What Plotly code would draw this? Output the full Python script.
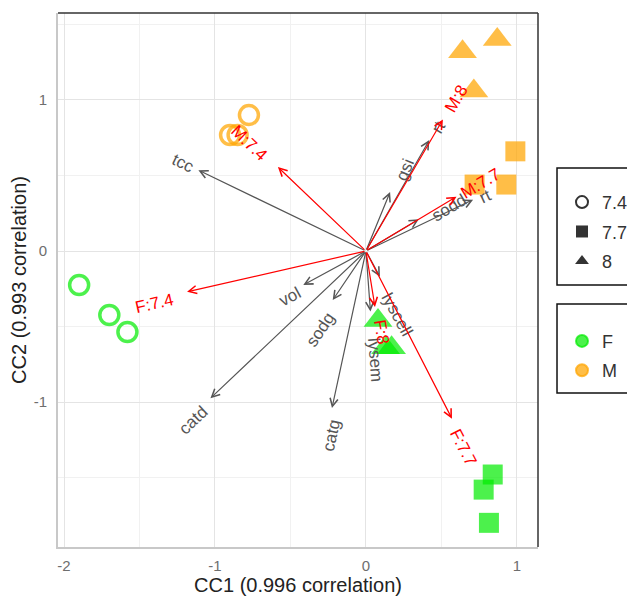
import math
import plotly.graph_objects as go

# ---- sample scores (CC1, CC2) ----
sex = ["F", "F", "F", "M", "M", "M", "F", "F", "F", "M", "M", "M", "F", "F", "F", "M", "M", "M"]
ph = [7.4, 7.4, 7.4, 7.4, 7.4, 7.4, 7.7, 7.7, 7.7, 7.7, 7.7, 7.7, 8, 8, 8, 8, 8, 8]
cc1 = [-1.90, -1.70, -1.58, -0.90, -0.85, -0.775, 0.84, 0.78, 0.815, 0.99, 0.93, 0.72,
       0.08, 0.13, 0.17, 0.64, 0.87, 0.715]
cc2 = [-0.225, -0.424, -0.536, 0.768, 0.768, 0.90, -1.48, -1.58, -1.80, 0.66, 0.44, 0.44,
       -0.46, -0.64, -0.64, 1.32, 1.40, 1.06]

# ---- variable arrows (biplot) ----
var_names = ["tcc", "vol", "sodg", "catd", "catg", "lysem", "lyscell", "gsi", "rt", "sodd", "rt"]
var_x = [-1.11, -0.415, -0.22, -1.03, -0.225, 0.03, 0.093, 0.16, 0.42, 0.35, 0.71]
var_y = [0.535, -0.225, -0.325, -0.975, -1.04, -0.40, -0.17, 0.39, 0.735, 0.21, 0.34]
var_label_x = [-1.21, -0.50, -0.30, -1.145, -0.23, 0.06, 0.205, 0.26, 0.48, 0.556, 0.79]
var_label_y = [0.58, -0.30, -0.52, -1.12, -1.22, -0.72, -0.42, 0.54, 0.82, 0.285, 0.36]

# ---- group centroid arrows ----
cent_names = ["M:7.4", "F:7.4", "M:8", "M:7.7", "F:8", "F:7.7"]
cent_x = [-0.583, -1.185, 0.51, 0.60, 0.06, 0.57]
cent_y = [0.556, -0.27, 0.87, 0.36, -0.37, -1.11]
cent_label_x = [-0.77, -1.40, 0.60, 0.76, 0.10, 0.645]
cent_label_y = [0.715, -0.345, 1.01, 0.45, -0.535, -1.30]

x_tick_vals = [-2, -1, 0, 1]
x_tick_text = ["-2", "-1", "0", "1"]
y_tick_vals = [-1, 0, 1]
y_tick_text = ["-1", "0", "1"]

FONT = "Liberation Sans, Arial, Helvetica, sans-serif"
sex_colors = {"F": "rgba(0,235,0,0.7)", "M": "rgba(255,165,0,0.72)"}
ph_symbols = {7.4: "circle-open", 7.7: "square", 8: "triangle-up"}
ph_sizes = {7.4: 19, 7.7: 20, 8: 25}

fig = go.Figure()

for s in ["F", "M"]:
    for p in [7.4, 7.7, 8]:
        xs = [cc1[i] for i in range(len(cc1)) if sex[i] == s and ph[i] == p]
        ys = [cc2[i] for i in range(len(cc2)) if sex[i] == s and ph[i] == p]
        open_sym = ph_symbols[p].endswith("open")
        fig.add_trace(go.Scatter(
            x=xs, y=ys, mode="markers", showlegend=False, hoverinfo="skip",
            marker=dict(symbol=ph_symbols[p], size=ph_sizes[p], color=sex_colors[s],
                        line=dict(width=3.5 if open_sym else 0, color=sex_colors[s])),
        ))

# legend 1: pH shapes
for p, lab in [(7.4, "7.4"), (7.7, "7.7"), (8, "8")]:
    open_sym = ph_symbols[p].endswith("open")
    fig.add_trace(go.Scatter(
        x=[None], y=[None], mode="markers", name=lab, legend="legend", legendgroup="ph" + lab,
        marker=dict(symbol=ph_symbols[p], size=12, color="#333333",
                    line=dict(width=3 if open_sym else 0, color="#333333")),
    ))
# legend 2: sex colours
for s in ["F", "M"]:
    fig.add_trace(go.Scatter(
        x=[None], y=[None], mode="markers", name=s, legend="legend2", legendgroup="sex" + s,
        marker=dict(symbol="circle", size=13, color=sex_colors[s],
                    line=dict(width=2, color=sex_colors[s])),
    ))


def readable_angle(dx, dy):
    a = math.degrees(math.atan2(dy, dx))
    if a > 90:
        a -= 180
    elif a < -90:
        a += 180
    return -a


annotations = []
for name, tx, ty, lx, ly in zip(var_names, var_x, var_y, var_label_x, var_label_y):
    annotations.append(dict(x=tx, y=ty, ax=0, ay=0, xref="x", yref="y", axref="x", ayref="y",
                            text="", showarrow=True, arrowhead=5, arrowsize=1.3,
                            arrowwidth=1.2, arrowcolor="#555555", standoff=0))
    annotations.append(dict(x=lx, y=ly, xref="x", yref="y", text=name, showarrow=False,
                            textangle=readable_angle(tx, ty),
                            font=dict(family=FONT, size=17, color="#555555")))
for name, tx, ty, lx, ly in zip(cent_names, cent_x, cent_y, cent_label_x, cent_label_y):
    annotations.append(dict(x=tx, y=ty, ax=0, ay=0, xref="x", yref="y", axref="x", ayref="y",
                            text="", showarrow=True, arrowhead=5, arrowsize=1.3,
                            arrowwidth=1.2, arrowcolor="#ff0000", standoff=0))
    annotations.append(dict(x=lx, y=ly, xref="x", yref="y", text=name, showarrow=False,
                            textangle=readable_angle(tx, ty),
                            font=dict(family=FONT, size=17, color="#ff0000")))

axis_common = dict(
    showgrid=True, gridcolor="#e4e4e4", gridwidth=1.3, zeroline=False,
    showline=True, linecolor="#c8c8c8", linewidth=2, ticks="",
    tickfont=dict(family=FONT, size=15, color="#6e6e6e"),
)

legend_common = dict(xanchor="left", yanchor="top", borderwidth=0, bgcolor="rgba(0,0,0,0)",
                     font=dict(family=FONT, size=18, color="#333333"),
                     itemsizing="constant", tracegroupgap=3)

fig.update_layout(
    width=627, height=590,
    margin=dict(l=50, r=97, t=5, b=51, autoexpand=False),
    paper_bgcolor="white", plot_bgcolor="white",
    font=dict(family=FONT),
    xaxis=dict(range=[-2.04, 1.14], tickvals=x_tick_vals, ticktext=x_tick_text,
               ticklabelstandoff=4,
               minor=dict(tickvals=[-1.5, -0.5, 0.5], showgrid=True, gridcolor="#f1f1f1", gridwidth=1),
               title=dict(text="CC1 (0.996 correlation)", standoff=0,
                          font=dict(family=FONT, size=20, color="#222222")),
               **axis_common),
    yaxis=dict(range=[-1.96, 1.576], tickvals=y_tick_vals, ticktext=y_tick_text,
               ticklabelstandoff=6,
               minor=dict(tickvals=[-1.5, -0.5, 0.5, 1.5], showgrid=True, gridcolor="#f1f1f1", gridwidth=1),
               title=dict(text="CC2 (0.993 correlation)", standoff=2,
                          font=dict(family=FONT, size=20, color="#222222")),
               **axis_common),
    legend=dict(x=1.05, y=0.68, **legend_common),
    legend2=dict(x=1.05, y=0.42, **legend_common),
    annotations=annotations,
    shapes=[
        dict(type="line", xref="paper", yref="paper", x0=0, x1=1, y0=1, y1=1,
             line=dict(color="#333333", width=1.5)),
        dict(type="line", xref="paper", yref="paper", x0=1, x1=1, y0=0, y1=1,
             line=dict(color="#333333", width=1.5)),
        dict(type="rect", xref="paper", yref="paper", x0=1.0396, x1=1.26, y0=0.4906, y1=0.7097,
             line=dict(color="#111111", width=1.5), fillcolor="rgba(0,0,0,0)"),
        dict(type="rect", xref="paper", yref="paper", x0=1.0396, x1=1.26, y0=0.2884, y1=0.455,
             line=dict(color="#111111", width=1.5), fillcolor="rgba(0,0,0,0)"),
    ],
)

fig.write_html("out.html")
